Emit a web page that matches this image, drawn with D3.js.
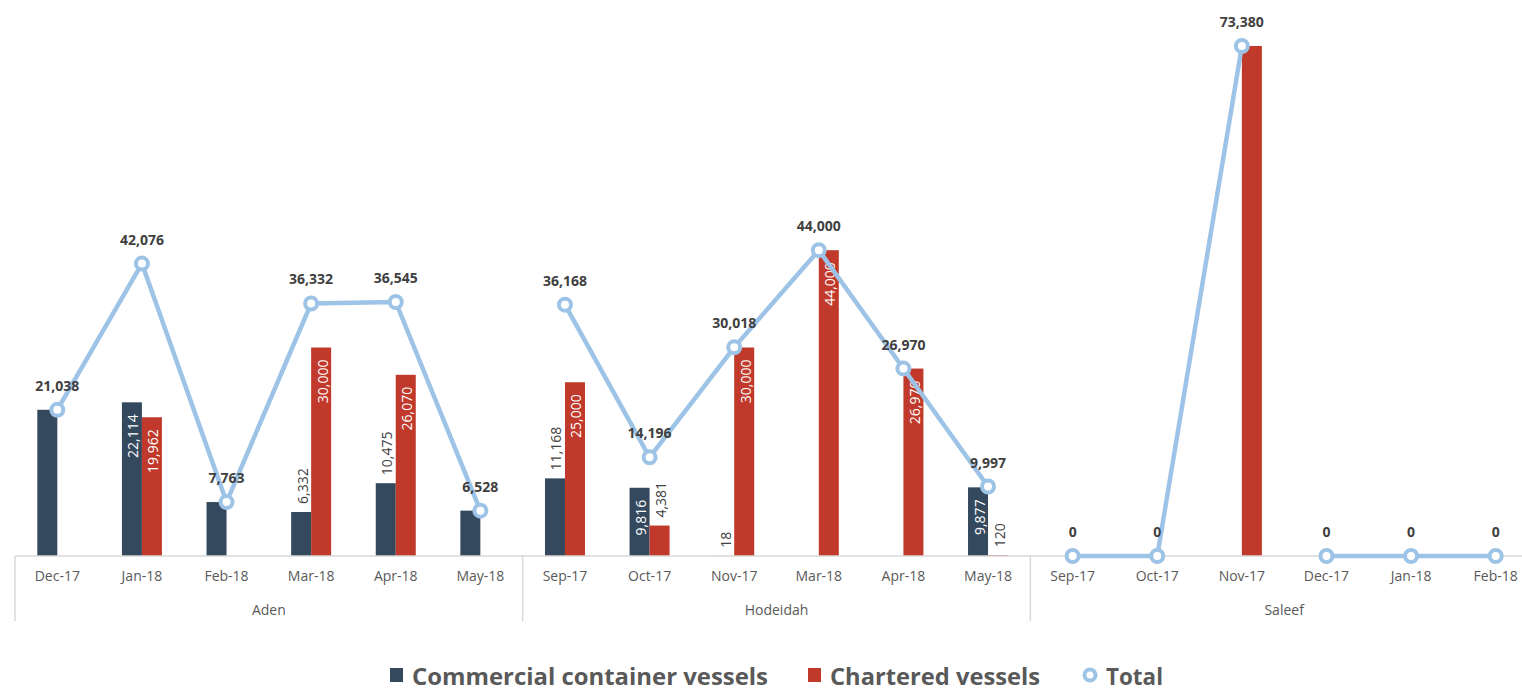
<!DOCTYPE html>
<html>
<head>
<meta charset="utf-8">
<script src="https://cdn.jsdelivr.net/npm/d3@7"></script>
<style>
  body { margin: 0; background: #fff; }
  svg { display: block; font-family: "Open Sans", sans-serif; }
</style>
</head>
<body>
<div id="chart"></div>
<script>
// ---- data ----
var ports = ["Aden", "Hodeidah", "Saleef"];
var portOf = ["Aden","Aden","Aden","Aden","Aden","Aden",
              "Hodeidah","Hodeidah","Hodeidah","Hodeidah","Hodeidah","Hodeidah",
              "Saleef","Saleef","Saleef","Saleef","Saleef","Saleef"];
var months = ["Dec-17","Jan-18","Feb-18","Mar-18","Apr-18","May-18",
              "Sep-17","Oct-17","Nov-17","Mar-18","Apr-18","May-18",
              "Sep-17","Oct-17","Nov-17","Dec-17","Jan-18","Feb-18"];
var commercial = [21038, 22114, 7763, 6332, 10475, 6528,
                  11168, 9816, 18, 0, 0, 9877,
                  0, 0, 0, 0, 0, 0];
var chartered  = [0, 19962, 0, 30000, 26070, 0,
                  25000, 4381, 30000, 44000, 26970, 120,
                  0, 0, 73380, 0, 0, 0];
var total      = [21038, 42076, 7763, 36332, 36545, 6528,
                  36168, 14196, 30018, 44000, 26970, 9997,
                  0, 0, 73380, 0, 0, 0];
// where each bar label sits: inside the bar end, outside it, or none
var commercialLabel = [null,"in",null,"out","out",null, "out","in","out",null,null,"in", null,null,null,null,null,null];
var charteredLabel  = [null,"in",null,"in","in",null, "in","out","in","in","in","out", null,null,null,null,null,null];
// the total line is not drawn between these two points
var lineBreaks = [[14, 15]];

var seriesNames = ["Commercial container vessels", "Chartered vessels", "Total"];
var colors = {commercial: "#34495e", chartered: "#c0392b", total: "#9dc3e6"};

// ---- layout ----
var width = 1522, height = 694;
var baseY = 556;

var svg = d3.select("#chart").append("svg")
    .attr("width", width)
    .attr("height", height);

var idx = d3.range(months.length);

var x = d3.scaleBand()
    .domain(idx)
    .range([15, 1538])
    .paddingInner(0)
    .paddingOuter(0);

var y = d3.scaleLinear()
    .domain([0, 80000])
    .range([baseY, 0]);

var fmt = d3.format(",");
var barW = 20;
var cx = function(i) { return x(i) + x.bandwidth() / 2; };

// bars
var bars = svg.append("g");
function drawBars(values, color, offset, labelPos) {
    bars.selectAll(null)
        .data(idx.filter(function(i) { return values[i] > 0; }))
        .enter().append("rect")
        .attr("x", function(i) { return cx(i) + offset; })
        .attr("width", barW)
        .attr("y", function(i) { return y(values[i]); })
        .attr("height", function(i) { return baseY - y(values[i]); })
        .style("fill", color);

    bars.selectAll(null)
        .data(idx.filter(function(i) { return labelPos[i]; }))
        .enter().append("text")
        .attr("transform", function(i) {
            var tx = cx(i) + offset + barW / 2 + 1;
            var ty = labelPos[i] === "in" ? y(values[i]) + 12 : y(values[i]) - 8;
            return "translate(" + tx + "," + ty + ") rotate(-90)";
        })
        .attr("text-anchor", function(i) { return labelPos[i] === "in" ? "end" : "start"; })
        .attr("dominant-baseline", "central")
        .style("font-size", "14px")
        .style("fill", function(i) { return labelPos[i] === "in" ? "#ffffff" : "#404040"; })
        .text(function(i) { return fmt(values[i]); });
}
drawBars(commercial, colors.commercial, -barW, commercialLabel);
drawBars(chartered, colors.chartered, 0, charteredLabel);

// axis
var axisG = svg.append("g");
axisG.append("line")
    .attr("x1", 15).attr("x2", width)
    .attr("y1", baseY).attr("y2", baseY)
    .style("stroke", "#d9d9d9").style("stroke-width", 1.5);

var xAxis = d3.axisBottom(x)
    .tickSize(0)
    .tickPadding(15)
    .tickFormat(function(i) { return months[i]; });

var ax = svg.append("g")
    .attr("transform", "translate(0," + baseY + ")")
    .call(xAxis);
ax.select(".domain").remove();
ax.selectAll("text")
    .style("font-family", "'Open Sans', sans-serif")
    .style("font-size", "14px")
    .style("fill", "#595959");

// group separators and names
ports.forEach(function(p) {
    var members = idx.filter(function(i) { return portOf[i] === p; });
    var x0 = x(members[0]);
    var x1 = x(members[members.length - 1]) + x.bandwidth();
    axisG.append("line")
        .attr("x1", x0).attr("x2", x0)
        .attr("y1", baseY).attr("y2", 621)
        .style("stroke", "#d9d9d9").style("stroke-width", 1.5);
    axisG.append("text")
        .attr("x", (x0 + x1) / 2)
        .attr("y", 615)
        .attr("text-anchor", "middle")
        .style("font-size", "14px")
        .style("fill", "#595959")
        .text(p);
});

// total line, one piece per port, with breaks
var segments = [];
ports.forEach(function(p) {
    var cur = [];
    idx.filter(function(i) { return portOf[i] === p; }).forEach(function(i) {
        var broken = lineBreaks.some(function(b) { return b[1] === i && cur.length && cur[cur.length - 1] === b[0]; });
        if (broken) { segments.push(cur); cur = []; }
        cur.push(i);
    });
    segments.push(cur);
});

var line = d3.line()
    .x(function(i) { return cx(i); })
    .y(function(i) { return y(total[i]); });

svg.append("g").selectAll("path")
    .data(segments.filter(function(s) { return s.length > 1; }))
    .enter().append("path")
    .attr("d", line)
    .style("fill", "none")
    .style("stroke", colors.total)
    .style("stroke-width", 4.5)
    .style("stroke-linejoin", "round");

svg.append("g").selectAll("circle")
    .data(idx)
    .enter().append("circle")
    .attr("cx", cx)
    .attr("cy", function(i) { return y(total[i]); })
    .attr("r", 6)
    .style("fill", "#fff")
    .style("stroke", colors.total)
    .style("stroke-width", 4);

svg.append("g").selectAll("text")
    .data(idx)
    .enter().append("text")
    .attr("x", cx)
    .attr("y", function(i) { return y(total[i]) - 19; })
    .attr("text-anchor", "middle")
    .style("font-size", "14px")
    .style("font-weight", "bold")
    .style("fill", "#404040")
    .text(function(i) { return fmt(total[i]); });

// legend
var legend = svg.append("g").attr("transform", "translate(0,675)");
var legendItems = [
    {name: seriesNames[0], color: colors.commercial, type: "rect", len: 356, gap: 40},
    {name: seriesNames[1], color: colors.chartered, type: "rect", len: 210, gap: 43},
    {name: seriesNames[2], color: colors.total, type: "circle", len: 57, gap: 0}
];
var lx = 390;
legendItems.forEach(function(d) {
    var tx;
    if (d.type === "rect") {
        legend.append("rect")
            .attr("x", lx).attr("y", -7)
            .attr("width", 13).attr("height", 14)
            .style("fill", d.color);
        tx = lx + 22;
    } else {
        legend.append("circle")
            .attr("cx", lx + 7).attr("cy", 0).attr("r", 5.5)
            .style("fill", "#fff")
            .style("stroke", d.color).style("stroke-width", 4);
        tx = lx + 23;
    }
    legend.append("text")
        .attr("x", tx)
        .attr("y", 0)
        .attr("dominant-baseline", "central")
        .attr("textLength", d.len)
        .attr("lengthAdjust", "spacingAndGlyphs")
        .style("font-size", "24px")
        .style("font-weight", "bold")
        .style("fill", "#595959")
        .text(d.name);
    lx = tx + d.len + d.gap;
});
</script>
</body>
</html>
